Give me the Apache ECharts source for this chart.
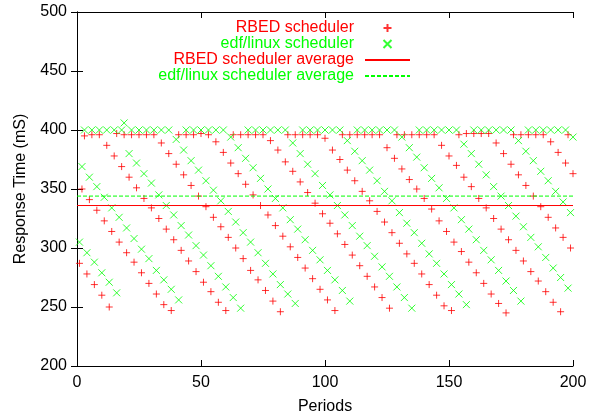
<!DOCTYPE html>
<html>
<head>
<meta charset="utf-8">
<script src="https://cdn.jsdelivr.net/npm/echarts@6/dist/echarts.min.js"></script>
<style>
  html, body { margin: 0; padding: 0; background: #fff; }
  #chart { width: 600px; height: 420px; }
</style>
</head>
<body>
<div id="chart"></div>
<script>
// Response time per period (period n is entry n-1), in ms
const rbedResponse = [
  287, 350, 395, 278, 341, 396, 269, 332, 396, 260,
  323, 387, 250, 314, 378, 397, 305, 369, 396, 296,
  360, 396, 288, 351, 396, 279, 342, 396, 270, 334,
  396, 261, 325, 389, 252, 316, 380, 247, 307, 371,
  396, 298, 362, 396, 289, 353, 396, 280, 344, 397,
  271, 335, 396, 263, 326, 390, 254, 318, 381, 247,
  309, 372, 396, 300, 363, 396, 291, 354, 396, 281,
  345, 396, 273, 336, 396, 264, 328, 391, 255, 319,
  383, 246, 310, 373, 396, 301, 365, 396, 292, 356,
  396, 283, 347, 396, 274, 338, 396, 265, 329, 393,
  256, 321, 383, 247, 312, 375, 396, 303, 366, 396,
  294, 357, 396, 285, 348, 396, 276, 340, 396, 267,
  331, 396, 258, 322, 385, 249, 313, 376, 396, 304,
  367, 396, 295, 358, 396, 287, 350, 396, 278, 342,
  396, 269, 333, 396, 260, 323, 387, 251, 314, 378,
  247, 305, 370, 396, 297, 360, 397, 288, 352, 397,
  279, 342, 397, 270, 334, 397, 261, 325, 389, 253,
  316, 380, 245, 307, 371, 396, 298, 362, 396, 289,
  353, 396, 280, 344, 396, 272, 335, 396, 263, 326,
  390, 254, 317, 381, 246, 309, 372, 396, 300, 363
];

const edfResponse = [
  305, 369, 400, 296, 360, 400, 288, 352, 400, 279,
  343, 400, 271, 334, 400, 262, 326, 400, 406, 317,
  380, 400, 308, 372, 400, 299, 363, 400, 291, 355,
  400, 281, 345, 400, 273, 336, 400, 265, 328, 392,
  256, 319, 383, 400, 311, 374, 400, 302, 366, 400,
  294, 357, 400, 285, 349, 400, 276, 340, 400, 267,
  331, 394, 258, 322, 385, 249, 313, 376, 400, 305,
  368, 400, 296, 359, 400, 287, 350, 400, 278, 342,
  400, 269, 334, 400, 261, 324, 389, 253, 316, 380,
  400, 307, 371, 400, 298, 363, 400, 290, 353, 400,
  281, 345, 400, 273, 336, 400, 264, 328, 391, 255,
  319, 382, 400, 310, 374, 400, 302, 366, 400, 293,
  357, 400, 284, 348, 400, 276, 340, 400, 267, 330,
  394, 258, 321, 385, 249, 313, 377, 400, 304, 368,
  400, 295, 359, 400, 287, 351, 400, 278, 342, 400,
  269, 334, 400, 261, 324, 388, 252, 316, 380, 400,
  307, 371, 400, 298, 362, 400, 290, 352, 400, 281,
  344, 400, 272, 336, 400, 264, 327, 391, 255, 318,
  382, 400, 309, 374, 400, 301, 365, 400, 292, 357,
  400, 283, 348, 400, 275, 339, 400, 266, 330, 394
];

const rbedAverage = 336;
const edfAverage = 344;

const periodRange = [0, 200];
const responseRange = [200, 500];

const seriesNames = [
  'RBED scheduler',
  'edf/linux scheduler',
  'RBED scheduler average',
  'edf/linux scheduler average'
];

const RED = '#ff0000';
const GREEN = '#00ff00';
const NONE = 'rgba(0,0,0,0)';
const FONT = '"Liberation Sans", Arial, Helvetica, sans-serif';

const plusSymbol = 'path://M0,3.5L7,3.5M3.5,0L3.5,7';
const crossSymbol = 'path://M0,0L7,7M7,0L0,7';

const toPoints = (values) => values.map((v, i) => [i + 1, v]);

const tickStyle = { show: true, inside: true, length: 6, lineStyle: { color: '#000', width: 1 } };
const lineStyleBlack = { show: true, lineStyle: { color: '#000', width: 1 } };

const chart = echarts.init(document.getElementById('chart'), null, { renderer: 'canvas' });

chart.setOption({
  animation: false,
  backgroundColor: '#fff',
  textStyle: { fontFamily: FONT },
  grid: { left: 77, right: 27, top: 12, bottom: 53, show: false },
  legend: {
    orient: 'vertical',
    right: 189,
    top: 20,
    padding: 0,
    itemGap: 0,
    itemWidth: 45,
    itemHeight: 8,
    align: 'right',
    selectedMode: false,
    textStyle: { fontSize: 16, lineHeight: 16, fontFamily: FONT, padding: [0, 6, 0, 0] },
    data: [
      { name: seriesNames[0], textStyle: { color: RED } },
      { name: seriesNames[1], textStyle: { color: GREEN } },
      { name: seriesNames[2], textStyle: { color: RED },
        itemStyle: { color: NONE, borderColor: NONE, borderWidth: 0 } },
      { name: seriesNames[3], textStyle: { color: GREEN },
        itemStyle: { color: NONE, borderColor: NONE, borderWidth: 0 } }
    ]
  },
  xAxis: [
    {
      type: 'value', position: 'bottom',
      min: periodRange[0], max: periodRange[1], interval: 50,
      axisLine: lineStyleBlack, axisTick: tickStyle, splitLine: { show: false },
      axisLabel: { color: '#000', fontSize: 16, fontFamily: FONT, margin: 9 },
      name: 'Periods', nameLocation: 'middle', nameGap: 33,
      nameTextStyle: { color: '#000', fontSize: 16, fontFamily: FONT }
    },
    {
      type: 'value', position: 'top',
      min: periodRange[0], max: periodRange[1], interval: 50,
      axisLine: lineStyleBlack, axisTick: tickStyle, splitLine: { show: false },
      axisLabel: { show: false }
    }
  ],
  yAxis: [
    {
      type: 'value', position: 'left',
      min: responseRange[0], max: responseRange[1], interval: 50,
      axisLine: lineStyleBlack, axisTick: tickStyle, splitLine: { show: false },
      axisLabel: { color: '#000', fontSize: 16, fontFamily: FONT, margin: 10 },
      name: 'Response Time (mS)', nameLocation: 'middle', nameGap: 48,
      nameTextStyle: { color: '#000', fontSize: 16, fontFamily: FONT }
    },
    {
      type: 'value', position: 'right',
      min: responseRange[0], max: responseRange[1], interval: 50,
      axisLine: lineStyleBlack, axisTick: tickStyle, splitLine: { show: false },
      axisLabel: { show: false }
    }
  ],
  series: [
    {
      name: seriesNames[0], type: 'scatter',
      symbol: plusSymbol, symbolSize: 7,
      itemStyle: { color: NONE, borderColor: RED, borderWidth: 1 },
      data: toPoints(rbedResponse)
    },
    {
      name: seriesNames[1], type: 'scatter',
      symbol: crossSymbol, symbolSize: 7,
      itemStyle: { color: NONE, borderColor: GREEN, borderWidth: 1 },
      data: toPoints(edfResponse)
    },
    {
      name: seriesNames[2], type: 'line', symbol: 'none',
      lineStyle: { color: RED, width: 1 },
      itemStyle: { color: NONE, borderColor: NONE, borderWidth: 0 },
      data: [[periodRange[0], rbedAverage], [periodRange[1], rbedAverage]]
    },
    {
      name: seriesNames[3], type: 'line', symbol: 'none',
      lineStyle: { color: GREEN, width: 1, type: [4, 2] },
      itemStyle: { color: NONE, borderColor: NONE, borderWidth: 0 },
      data: [[periodRange[0], edfAverage], [periodRange[1], edfAverage]]
    }
  ]
});
</script>
</body>
</html>
